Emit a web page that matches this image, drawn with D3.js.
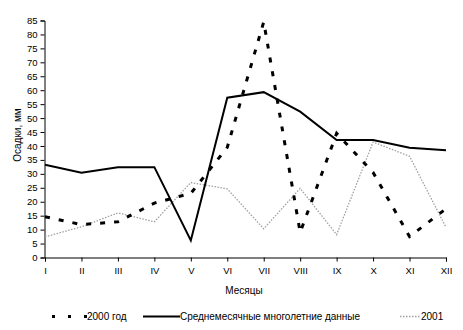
<!DOCTYPE html>
<html><head><meta charset="utf-8">
<script src="https://cdn.jsdelivr.net/npm/d3@7"></script>
<style>body{margin:0;background:#fff}text{font-family:Arial,"Liberation Sans",sans-serif}</style>
</head><body><svg id="c" width="463" height="330"></svg>
<script>
const months = ["I","II","III","IV","V","VI","VII","VIII","IX","X","XI","XII"];
const yTicks = [0,5,10,15,20,25,30,35,40,45,50,55,60,65,70,75,80,85];
const s2000 = [14.6,11.8,12.8,19.5,23,39.5,84.5,9,44.5,30.5,7.5,17.5];
const sAvg = [33.3,30.4,32.4,32.4,6.1,57.3,59.3,52.3,42.1,42.1,39.4,38.5];
const s2001 = [7.4,11,16,12.8,26.9,24.6,10.3,24.8,8.2,41.4,36.3,10.8];

const svg = d3.select("#c");
const x = d3.scalePoint().domain(months).range([45,446]);
const y = d3.scaleLinear().domain([0,85]).range([257.5,20.5]);

const gy = svg.append("g").attr("transform","translate(44.5,0)")
  .call(d3.axisLeft(y).tickValues(yTicks).tickSize(4).tickPadding(3));
const gx = svg.append("g").attr("transform","translate(0,257.5)")
  .call(d3.axisBottom(x).tickSize(4).tickPadding(6));
[gy,gx].forEach(g=>{
  g.select(".domain").attr("stroke","#000");
  g.selectAll("line").attr("stroke","#000");
  g.selectAll("text").attr("font-size",9.5).attr("fill","#000");
});

const line = d3.line().x((d,i)=>x(months[i])).y(d=>y(d));
svg.append("path").datum(s2001).attr("d",line).attr("fill","none")
  .attr("stroke","#a0a0a0").attr("stroke-width",1.3).attr("stroke-dasharray","1.5,1.5");
svg.append("path").datum(sAvg).attr("d",line).attr("fill","none")
  .attr("stroke","#000").attr("stroke-width",2);
svg.append("path").datum(s2000).attr("d",line).attr("fill","none")
  .attr("stroke","#000").attr("stroke-width",3).attr("stroke-dasharray","5,9");

svg.append("text").attr("x",244).attr("y",294).attr("text-anchor","middle")
  .attr("font-size",10).text("Месяцы");
svg.append("text").attr("transform","translate(21,135) rotate(-90)").attr("text-anchor","middle")
  .attr("font-size",10).text("Осадки, мм");

const lg = svg.append("g");
lg.append("line").attr("x1",52).attr("x2",87).attr("y1",316.5).attr("y2",316.5)
  .attr("stroke","#000").attr("stroke-width",3).attr("stroke-dasharray","3,13");
lg.append("text").attr("x",87).attr("y",320).attr("font-size",10).text("2000 год");
lg.append("line").attr("x1",143).attr("x2",180).attr("y1",316.5).attr("y2",316.5)
  .attr("stroke","#000").attr("stroke-width",2);
lg.append("text").attr("x",180).attr("y",320).attr("font-size",10).attr("textLength",180).text("Среднемесячные многолетние данные");
lg.append("line").attr("x1",400).attr("x2",421).attr("y1",316.5).attr("y2",316.5)
  .attr("stroke","#a0a0a0").attr("stroke-width",1.3).attr("stroke-dasharray","1.5,1.5");
lg.append("text").attr("x",421).attr("y",320).attr("font-size",10).text("2001");
</script></body></html>
